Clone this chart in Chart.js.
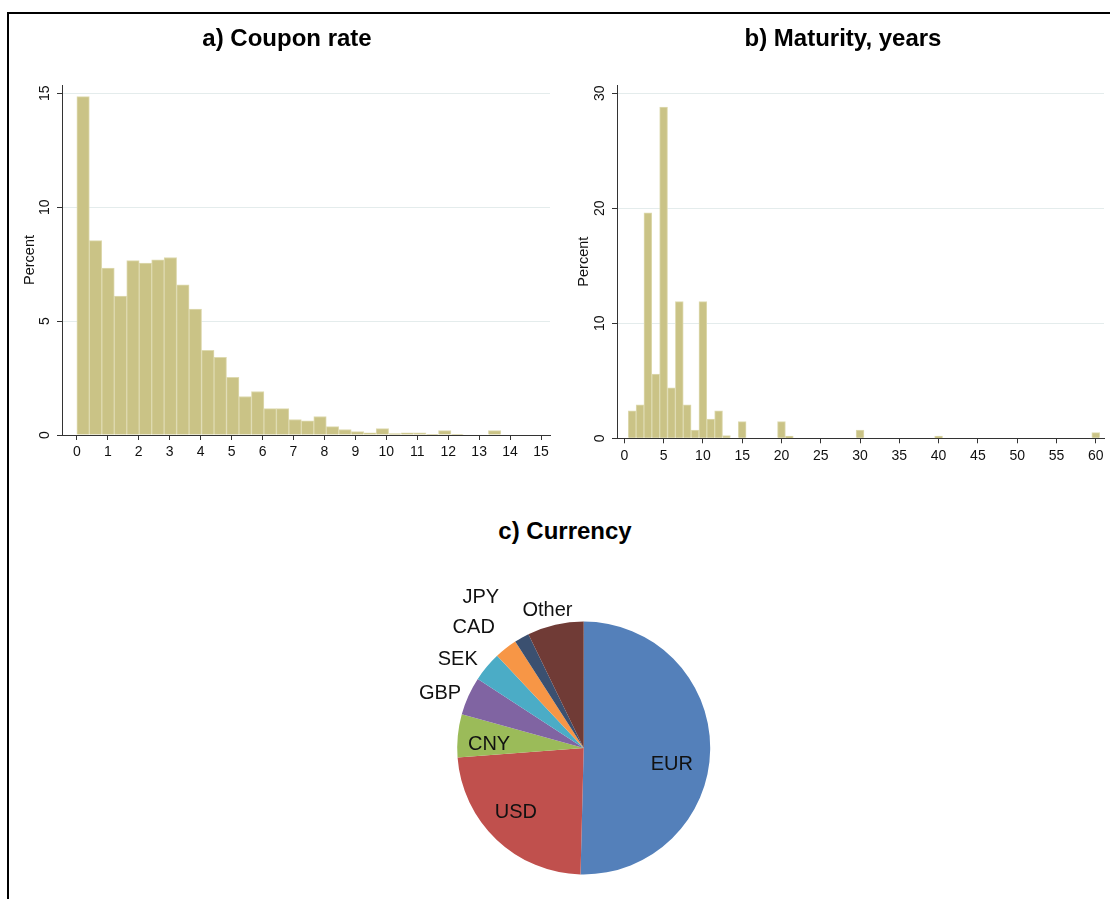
<!DOCTYPE html>
<html><head><meta charset="utf-8">
<script src="https://cdn.jsdelivr.net/npm/chart.js@4.4.1/dist/chart.umd.min.js"></script>
<style>
html,body{margin:0;padding:0;background:#fff;width:1110px;height:899px;overflow:hidden;position:relative;font-family:"Liberation Sans",Arial,sans-serif}
#frame{position:absolute;left:7px;top:12px;width:1200px;height:1000px;border-top:2px solid #000;border-left:2px solid #000;box-sizing:border-box}
.box{position:absolute}
.ttl{position:absolute;width:400px;text-align:center;font:bold 24px "Liberation Sans",Arial,sans-serif;color:#000;line-height:28px;white-space:nowrap}
</style></head><body>
<div id="frame"></div>
<div class="box" style="left:0;top:0;width:560px;height:470px"><canvas id="ca"></canvas></div>
<div class="box" style="left:560px;top:0;width:550px;height:470px"><canvas id="cb"></canvas></div>
<div class="box" style="left:380px;top:560px;width:370px;height:330px"><canvas id="cc"></canvas></div>
<div class="ttl" id="titleA" style="left:87px;top:24px"></div>
<div class="ttl" id="titleB" style="left:643px;top:24px"></div>
<div class="ttl" id="titleC" style="left:365px;top:517px"></div>
<script>
// ---- data ----
const panelTitles = ['a) Coupon rate', 'b) Maturity, years', 'c) Currency'];

const couponBinWidth = 0.403;
const couponPct = [14.85, 8.53, 7.32, 6.10, 7.65, 7.54, 7.69, 7.79, 6.59, 5.53,
                   3.72, 3.41, 2.53, 1.69, 1.91, 1.16, 1.16, 0.68, 0.62, 0.81,
                   0.37, 0.24, 0.15, 0.10, 0.28, 0.06, 0.10, 0.09, 0.03, 0.19,
                   0.03, 0, 0, 0.19];
const couponTicks = [0,1,2,3,4,5,6,7,8,9,10,11,12,13,14,15];
const percentTicksA = [0,5,10,15];

const maturityYears = [1,2,3,4,5,6,7,8,9,10,11,12,13,15,20,21,30,40,60];
const maturityPct   = [2.38,2.90,19.6,5.59,28.8,4.38,11.88,2.90,0.72,11.88,1.68,2.38,0.23,1.45,1.45,0.20,0.72,0.20,0.49];
const maturityTicks = [0,5,10,15,20,25,30,35,40,45,50,55,60];
const percentTicksB = [0,10,20,30];

const currencies = ['EUR','USD','CNY','GBP','SEK','CAD','JPY','Other'];
const currencyShare = [50.4, 23.4, 5.5, 4.9, 3.8, 2.9, 1.9, 7.2];

document.getElementById('titleA').textContent = panelTitles[0];
document.getElementById('titleB').textContent = panelTitles[1];
document.getElementById('titleC').textContent = panelTitles[2];

// ---- styles ----
const F = '"Liberation Sans", Arial, sans-serif';
const barFill = '#CAC386';
const barEdge = '#DEDAB0';
const gridCol = '#E4ECEC';
const axisCol = '#333333';
const pieColors = ['#5480BA','#C0504D','#9BBB59','#8064A2','#4BACC6','#F79646','#3B5070','#703B36'];

function histOptions(xmin, xmax, xt, ymax, yt, yWidth, xHeight, rightPad, yTitlePad){
  return {
    responsive:true, maintainAspectRatio:false, animation:false,
    layout:{padding:{left:0,right:rightPad,top:85,bottom:0}},
    plugins:{ legend:{display:false}, tooltip:{enabled:false}, title:{display:false} },
    scales:{
      x:{type:'linear',min:xmin,max:xmax,offset:false,
         afterBuildTicks:s=>{s.ticks=xt.map(v=>({value:v}));},
         afterFit:s=>{s.height=xHeight;},
         grid:{drawOnChartArea:false,drawTicks:true,tickLength:5,tickColor:axisCol,offset:false},
         border:{color:axisCol,width:1},
         ticks:{font:{family:F,size:14},color:'#111',padding:4,maxRotation:0,minRotation:0,autoSkip:false}},
      y:{type:'linear',min:0,max:ymax,
         afterBuildTicks:s=>{s.ticks=yt.map(v=>({value:v}));},
         afterFit:s=>{s.width=yWidth;},
         grid:{color:gridCol,lineWidth:1,tickColor:axisCol,tickLength:5},
         border:{color:axisCol,width:1},
         ticks:{font:{family:F,size:14},color:'#111',minRotation:90,maxRotation:90,crossAlign:'center',padding:4,autoSkip:false},
         title:{display:true,text:'Percent',color:'#111',font:{family:F,size:14.5,lineHeight:1.2},padding:{top:yTitlePad,bottom:0}}}
    }
  };
}

new Chart(document.getElementById('ca'), {
  type:'bar',
  data:{datasets:[{
    data:couponPct.map((v,i)=>({x:(i+0.5)*couponBinWidth, y:v})),
    backgroundColor:barFill, borderColor:barEdge, borderWidth:1,
    barPercentage:1, categoryPercentage:1
  }]},
  options:histOptions(-0.48, 15.29, couponTicks, 15.36, percentTicksA, 62, 35, 10, 21.3)
});

new Chart(document.getElementById('cb'), {
  type:'bar',
  data:{datasets:[{
    data:maturityYears.map((y,i)=>({x:y, y:maturityPct[i]})),
    backgroundColor:barFill, borderColor:barEdge, borderWidth:1,
    barPercentage:1, categoryPercentage:1
  }]},
  options:histOptions(-0.93, 61.05, maturityTicks, 30.72, percentTicksB, 57, 31.7, 6, 15.3)
});

const pieLabelStyle = {
  font:'20px "Liberation Sans", Arial, sans-serif', color:'#111',
  inside:[true,true,true,false,false,false,false,false],
  insideFrac:0.72, gap:10, textH:14,
  nudge:[[-3,15],[-5,-2],[-4,5],[0,5],[-6,4],[-13,-7],[-27,-25],[0,2]]
};
const pieLabels = {
  id:'pieLabels',
  afterDatasetsDraw(chart){
    const ctx = chart.ctx, st = pieLabelStyle;
    const meta = chart.getDatasetMeta(0);
    ctx.save();
    ctx.font = st.font; ctx.fillStyle = st.color;
    ctx.textAlign = 'center'; ctx.textBaseline = 'middle';
    meta.data.forEach((arc,i)=>{
      const p = arc.getProps(['x','y','startAngle','endAngle','outerRadius'], true);
      const mid = (p.startAngle + p.endAngle)/2;
      const c = Math.cos(mid), s = Math.sin(mid);
      const label = chart.data.labels[i];
      let px, py;
      if (st.inside[i]) {
        px = p.x + c*p.outerRadius*st.insideFrac;
        py = p.y + s*p.outerRadius*st.insideFrac;
      } else {
        const w = ctx.measureText(label).width, r = p.outerRadius + st.gap;
        px = p.x + c*r + c*w/2;
        py = p.y + s*r + s*st.textH/2;
      }
      ctx.fillText(label, px + st.nudge[i][0], py + st.nudge[i][1]);
    });
    ctx.restore();
  }
};

new Chart(document.getElementById('cc'), {
  type:'pie',
  data:{labels:currencies, datasets:[{data:currencyShare, backgroundColor:pieColors, borderWidth:0}]},
  options:{
    responsive:true, maintainAspectRatio:false, animation:false, rotation:0,
    layout:{padding:{left:77.2,right:39.8,top:61.5,bottom:15.5}},
    plugins:{legend:{display:false}, tooltip:{enabled:false}}
  },
  plugins:[pieLabels]
});
</script>
</body></html>
